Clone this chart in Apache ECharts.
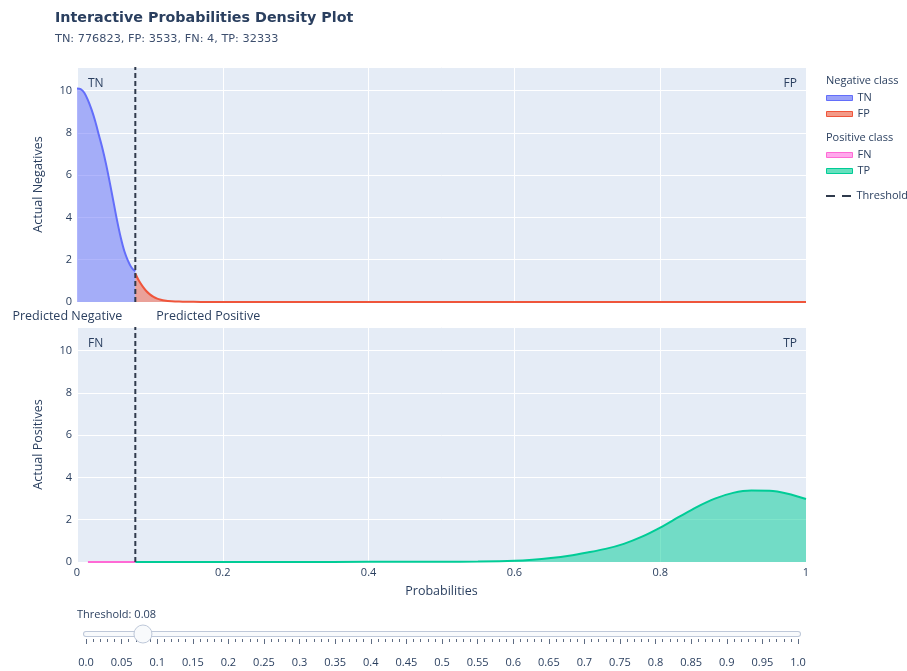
<!DOCTYPE html>
<html>
<head>
<meta charset="utf-8">
<script src="https://cdn.jsdelivr.net/npm/echarts@6/dist/echarts.min.js"></script>
<style>
html,body{margin:0;padding:0;background:#fff;}
#chart{width:907px;height:671px;}
</style>
</head>
<body>
<div id="chart"></div>
<script>
// ---- data ----
const threshold = 0.08;
const counts = { TN: 776823, FP: 3533, FN: 4, TP: 32333 };

const tnX = [0, 0.005, 0.01, 0.015, 0.02, 0.025, 0.03, 0.035, 0.04, 0.045, 0.05, 0.055, 0.06, 0.065, 0.07, 0.075, 0.08];
const tnY = [10.1, 10.07, 9.9, 9.55, 9.1, 8.55, 7.9, 7.25, 6.5, 5.65, 4.75, 3.85, 3.05, 2.4, 1.95, 1.62, 1.45];

const fpX = [0.08, 0.085, 0.09, 0.095, 0.1, 0.105, 0.11, 0.115, 0.12, 0.13, 0.14, 0.15, 0.17, 0.2, 0.3, 0.5, 0.7, 1.0];
const fpY = [1.35, 1.0, 0.74, 0.52, 0.36, 0.24, 0.16, 0.11, 0.075, 0.04, 0.02, 0.01, 0.004, 0.002, 0.001, 0, 0, 0];

const fnX = [0.015, 0.03, 0.05, 0.08];
const fnY = [0.002, 0.003, 0.003, 0.002];

const tpX = [0.08, 0.2, 0.3, 0.4, 0.45, 0.5, 0.55, 0.6, 0.625, 0.65, 0.675, 0.7, 0.725, 0.75, 0.775, 0.8, 0.825, 0.85, 0.875, 0.9, 0.925, 0.95, 0.975, 1.0];
const tpY = [0.002, 0.003, 0.004, 0.006, 0.008, 0.012, 0.025, 0.06, 0.11, 0.19, 0.3, 0.45, 0.62, 0.86, 1.2, 1.63, 2.12, 2.6, 3.0, 3.27, 3.38, 3.37, 3.23, 2.98];

const yMax = 11.12;
const sliderStep = 0.05;

// ---- helpers ----
const zip = (xs, ys) => xs.map((x, i) => [x, ys[i]]);
const FONT = '"Open Sans", verdana, arial, sans-serif';
const VFONT = '"DejaVu Sans", verdana, sans-serif';
const TXT = '#2a3f5f';
const G = { left: 77, right: 101, w: 729, h: 235, top0: 67, top1: 327 };

const chart = echarts.init(document.getElementById('chart'), null, { renderer: 'canvas' });

function densSeries(name, xs, ys, color, fill, xi) {
  return {
    name, type: 'line', xAxisIndex: xi, yAxisIndex: xi,
    data: zip(xs, ys), smooth: 0.3, symbol: 'none',
    lineStyle: { color, width: 2 }, itemStyle: { color },
    areaStyle: { color: fill, opacity: 1 }, z: 2
  };
}
function thrSeries(xi) {
  return {
    name: 'Threshold', type: 'line', xAxisIndex: xi, yAxisIndex: xi,
    data: [[threshold, 0], [threshold, yMax]], symbol: 'none',
    lineStyle: { color: '#2f3a4c', width: 2, type: [5, 3] }, itemStyle: { color: '#2f3a4c' }, z: 5
  };
}
const mainX = (gi, showLabels) => ({
  type: 'value', gridIndex: gi, min: 0, max: 1, interval: 0.2,
  axisLine: { show: false }, axisTick: { show: false },
  splitLine: { show: true, lineStyle: { color: '#ffffff', width: 1 } },
  axisLabel: { show: showLabels, fontFamily: FONT, fontSize: 11, color: TXT, margin: 5,
    formatter: v => String(+v.toFixed(2)) },
  name: showLabels ? 'Probabilities' : '', nameLocation: 'middle', nameGap: 23,
  nameTextStyle: { fontFamily: FONT, fontSize: 12.5, color: TXT }
});
const mainY = (gi, title) => ({
  type: 'value', gridIndex: gi, min: 0, max: yMax, interval: 2,
  axisLine: { show: false }, axisTick: { show: false },
  splitLine: { show: true, lineStyle: { color: '#ffffff', width: 1 } },
  axisLabel: { fontFamily: FONT, fontSize: 11, color: TXT, margin: 5, showMaxLabel: false },
  name: title, nameLocation: 'middle', nameGap: 32,
  nameTextStyle: { fontFamily: FONT, fontSize: 12.5, color: TXT }
});

const legendBase = {
  orient: 'vertical', left: 826, padding: 0, itemWidth: 26, itemHeight: 5, icon: 'rect', itemGap: 0,
  textStyle: { fontFamily: FONT, fontSize: 11, color: TXT, lineHeight: 16 },
  selectedMode: false
};

const option = {
  animation: false,
  backgroundColor: '#ffffff',
  title: {
    text: 'Interactive Probabilities Density Plot',
    subtext: `TN: ${counts.TN}, FP: ${counts.FP}, FN: ${counts.FN}, TP: ${counts.TP}`,
    left: 55, top: 11, padding: 0, itemGap: 9,
    textStyle: { fontFamily: VFONT, fontSize: 14.3, fontWeight: 'bold', color: TXT },
    subtextStyle: { fontFamily: VFONT, fontSize: 11.3, color: '#3d4f6e' }
  },
  grid: [
    { left: G.left, right: G.right, top: G.top0, height: G.h, show: true, backgroundColor: '#E5ECF6', borderWidth: 0 },
    { left: G.left, right: G.right, top: G.top1, height: G.h, show: true, backgroundColor: '#E5ECF6', borderWidth: 0 },
    { left: 86, right: 109, top: 629, height: 10 }
  ],
  xAxis: [
    mainX(0, false),
    mainX(1, true),
    { type: 'value', gridIndex: 2, min: 0, max: 1, interval: sliderStep, offset: 8,
      axisLine: { show: false },
      axisTick: { show: true, length: 5, lineStyle: { color: '#5d6b82', width: 1 } },
      minorTick: { show: true, splitNumber: 5, length: 3, lineStyle: { color: '#5d6b82', width: 1 } },
      splitLine: { show: false },
      axisLabel: { fontFamily: FONT, fontSize: 11, color: TXT, margin: 10,
        formatter: v => (v === 0 ? '0.0' : v === 1 ? '1.0' : String(+v.toFixed(2))) } }
  ],
  yAxis: [
    mainY(0, 'Actual Negatives'),
    mainY(1, 'Actual Positives'),
    { type: 'value', gridIndex: 2, min: 0, max: 1, show: false }
  ],
  legend: [
    Object.assign({}, legendBase, { top: 90, data: [
      { name: 'TN', itemStyle: { color: '#9aa2f8', borderColor: '#636efa', borderWidth: 1 } },
      { name: 'FP', itemStyle: { color: '#f39a88', borderColor: '#EF553B', borderWidth: 1 } } ] }),
    Object.assign({}, legendBase, { top: 147, data: [
      { name: 'FN', itemStyle: { color: '#ffa8ec', borderColor: '#ff6ad5', borderWidth: 1 } },
      { name: 'TP', itemStyle: { color: '#66e0be', borderColor: '#00cc96', borderWidth: 1 } } ] }),
    Object.assign({}, legendBase, { top: 188, itemHeight: 2, data: [
      { name: 'Threshold', icon: 'path://M0,0h9v2h-9z M16,0h9v2h-9z',
        itemStyle: { color: '#2f3a4c', borderWidth: 0 } } ] })
  ],
  series: [
    densSeries('TN', tnX, tnY, '#636efa', 'rgba(99,110,250,0.5)', 0),
    densSeries('FP', fpX, fpY, '#EF553B', 'rgba(239,85,59,0.5)', 0),
    densSeries('FN', fnX, fnY, '#ff6ad5', 'rgba(255,106,213,0.5)', 1),
    densSeries('TP', tpX, tpY, '#00cc96', 'rgba(0,204,150,0.5)', 1),
    thrSeries(0),
    thrSeries(1),
    { name: 'track-border', type: 'line', xAxisIndex: 2, yAxisIndex: 2, data: [[0, 0.5], [1, 0.5]],
      symbol: 'none', lineStyle: { color: '#bec8d9', width: 6, cap: 'round' }, silent: true, z: 1 },
    { name: 'track', type: 'line', xAxisIndex: 2, yAxisIndex: 2, data: [[0, 0.5], [1, 0.5]],
      symbol: 'none', lineStyle: { color: '#f8fafc', width: 4, cap: 'round' }, silent: true, z: 2 },
    { name: 'knob', type: 'scatter', xAxisIndex: 2, yAxisIndex: 2, data: [[threshold, 0.5]],
      symbol: 'circle', symbolSize: 18,
      itemStyle: { color: '#f8fafc', borderColor: '#bec8d9', borderWidth: 1, opacity: 1 }, z: 3 }
  ]
};
chart.setOption(option);

// annotations relative to grids and threshold
const thrPx = chart.convertToPixel({ xAxisIndex: 0 }, threshold);
const txt = (text, x, y, align) => ({
  type: 'text', x, y,
  style: { text, align, verticalAlign: 'middle', font: `12px ${FONT}`, fill: TXT }
});
const rightEdge = G.left + G.w;
chart.setOption({
  graphic: [
    { type: 'text', x: 826, y: 81, style: { text: 'Negative class', font: `11px ${FONT}`, fill: TXT, verticalAlign: 'middle' } },
    { type: 'text', x: 826, y: 138, style: { text: 'Positive class', font: `11px ${FONT}`, fill: TXT, verticalAlign: 'middle' } },
    txt('TN', G.left + 11, G.top0 + 17, 'left'),
    txt('FP', rightEdge - 9, G.top0 + 17, 'right'),
    txt('FN', G.left + 11, G.top1 + 17, 'left'),
    txt('TP', rightEdge - 9, G.top1 + 17, 'right'),
    { type: 'text', x: thrPx - 13, y: G.top0 + G.h + 14, style: { text: 'Predicted Negative', align: 'right', verticalAlign: 'middle', font: `12.5px ${FONT}`, fill: TXT } },
    { type: 'text', x: thrPx + 21, y: G.top0 + G.h + 14, style: { text: 'Predicted Positive', align: 'left', verticalAlign: 'middle', font: `12.5px ${FONT}`, fill: TXT } },
    { type: 'text', x: 77, y: 615, style: { text: 'Threshold: ' + threshold.toFixed(2), verticalAlign: 'middle', font: `11px ${FONT}`, fill: TXT } }
  ]
});
</script>
</body>
</html>
